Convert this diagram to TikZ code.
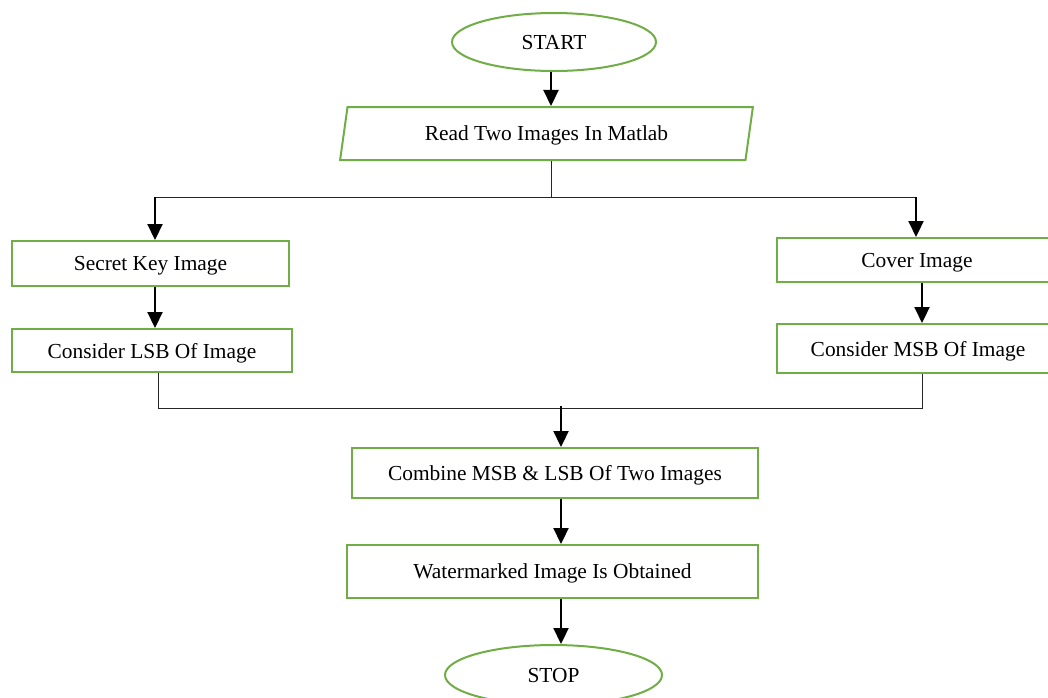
\documentclass[tikz,border=0pt]{standalone}
\usepackage{fontspec}
\setmainfont{Liberation Serif}
\usetikzlibrary{shapes.geometric,arrows.meta}
\definecolor{flowgreen}{RGB}{112,173,71}
\tikzset{
	box/.style={rectangle, draw=flowgreen, line width=1pt, fill=white, inner sep=0pt, text depth=0pt},
	terminal/.style={ellipse, draw=flowgreen, line width=1pt, fill=white, inner sep=0pt, text depth=0pt},
	inout/.style={trapezium, trapezium left angle=73, trapezium right angle=107, trapezium stretches=true, draw=flowgreen, line width=1pt, inner sep=0pt, text depth=0pt},
	flowarrow/.style={-{Triangle[width=7.5pt,length=8pt]}, line width=1.1pt, black},
	joinline/.style={line width=0.5pt, black!85}
}

\begin{document}
\begin{tikzpicture}[x=0.5pt, y=-0.5pt, font=\fontsize{10.7}{13}\selectfont]
	\clip (0,0) rectangle (1048,697);
	%start and input
	\node[terminal, minimum width=102pt, minimum height=29pt] (start) at (554,42) {START};
	\node[inout, minimum width=206.5pt, minimum height=26.5pt] (read) at (546.5,133.5) {Read Two Images In Matlab};
	%left branch
	\node[box, minimum width=138.5pt, minimum height=22.5pt] (secret) at (150.5,263.5) {Secret Key Image};
	\node[box, minimum width=140pt, minimum height=21.5pt] (lsb) at (152,350.5) {Consider LSB Of Image};
	%right branch
	\node[box, minimum width=140pt, minimum height=22pt] (cover) at (917,260) {Cover Image};
	\node[box, minimum width=141.5pt, minimum height=24.5pt] (msb) at (918,348.5) {Consider MSB Of Image};
	%merge and output
	\node[box, minimum width=203pt, minimum height=25pt] (combine) at (555,473) {Combine MSB \& LSB Of Two Images};
	\node[box, minimum width=205.5pt, minimum height=26.5pt] (water) at (552.5,571.5) {Watermarked Image Is Obtained};
	\node[terminal, minimum width=108.5pt, minimum height=30pt] (stop) at (553.5,675) {STOP};
	%split points
	\coordinate (split) at (551,197);
	\coordinate (splitL) at (155,197);
	\coordinate (splitR) at (916,197);
	\coordinate (merge) at (561,408);
	\coordinate (mergeL) at (158,408);
	\coordinate (mergeR) at (922,408);
	%connectors
	\draw[flowarrow] (split |- start.south) -- (split |- read.north);
	\draw[joinline] (split |- read.south) -- (split);
	\draw[joinline] (splitL) -- (splitR);
	\draw[flowarrow] (splitL) -- (splitL |- secret.north);
	\draw[flowarrow] (splitR) -- (splitR |- cover.north);
	\draw[flowarrow] (splitL |- secret.south) -- (splitL |- lsb.north);
	\draw[flowarrow] (mergeR |- cover.south) -- (mergeR |- msb.north);
	\draw[joinline] (mergeL |- lsb.south) -- (mergeL) -- (mergeR) -- (mergeR |- msb.south);
	\draw[flowarrow] ([yshift=1pt]merge) -- (merge |- combine.north);
	\foreach \a/\b in {combine/water, water/stop}
		\draw[flowarrow] (merge |- \a.south) -- (merge |- \b.north);
\end{tikzpicture}
\end{document}
